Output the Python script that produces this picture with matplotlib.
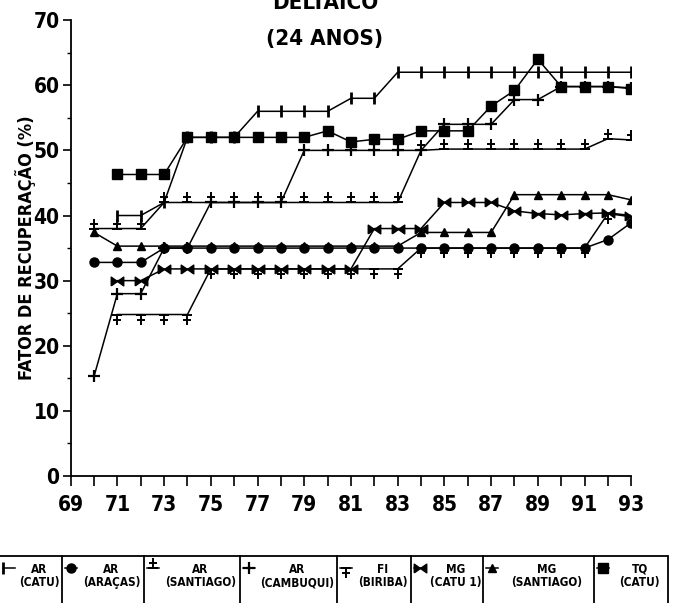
import numpy as np
import matplotlib
matplotlib.use("Agg")
import matplotlib.pyplot as plt
from matplotlib.path import Path
from matplotlib.lines import Line2D

plt.rcParams['font.family'] = ['DejaVu Sans']
plt.rcParams['font.stretch'] = 'condensed'
plt.rcParams['font.weight'] = 'bold'

# Data
years = list(range(70, 94))
nan = np.nan

ar_catu = [nan, 40, 40, 42, 52, 52, 52, 56, 56, 56, 56, 58, 58,
           62, 62, 62, 62, 62, 62, 62, 62, 62, 62, 62]
ar_aracas = [32.8, 32.8, 32.8, 35, 35, 35, 35, 35, 35, 35, 35, 35, 35,
             35, 35, 35, 35, 35, 35, 35, 35, 35, 36.3, 38.9]
ar_santiago = [38, 38, 38, 42, 42, 42, 42, 42, 42, 42, 42, 42, 42,
               42, 50, 50.2, 50.2, 50.2, 50.2, 50.2, 50.2, 50.2, 51.8, 51.6]
ar_cambuqui = [15.3, 28, 28, 35, 35, 42, 42, 42, 42, 50, 50, 50, 50,
               50, 50, 54, 54, 54, 57.8, 57.8, 59.8, 59.8, 59.8, 59.6]
fi_biriba = [nan, 24.8, 24.8, 24.8, 24.8, 31.8, 31.8, 31.8, 31.8, 31.8, 31.8, 31.8, 31.8,
             31.8, 35, 35, 35, 35, 35, 35, 35, 35, 40.3, 39.8]
mg_catu1 = [nan, 30, 30, 31.8, 31.8, 31.8, 31.8, 31.8, 31.8, 31.8, 31.8, 31.8, 38,
            38, 38, 42, 42, 42, 40.7, 40.3, 40.1, 40.3, 40.4, 40]
mg_santiago = [37.4, 35.3, 35.3, 35.3, 35.3, 35.3, 35.3, 35.3, 35.3, 35.3, 35.3, 35.3, 35.3,
               35.3, 37.4, 37.4, 37.4, 37.4, 43.2, 43.2, 43.2, 43.2, 43.2, 42.4]
tq_catu = [nan, 46.3, 46.3, 46.3, 52, 52, 52, 52, 52, 52, 53, 51.3, 51.7,
           51.7, 53, 53, 53, 56.8, 59.2, 64, 59.8, 59.8, 59.8, 59.5]

names = ["AR\n(CATU)", "AR\n(ARAÇAS)", "AR\n(SANTIAGO)", "AR\n(CAMBUQUI)",
         "FI\n(BIRIBA)", "MG\n(CATU 1)", "MG\n(SANTIAGO)", "TQ\n(CATU)"]

# custom markers
M, L = Path.MOVETO, Path.LINETO
plus_up = Path([(-0.5, 0), (0.5, 0), (0, 0), (0, 1), (-0.4, 0.55), (0.4, 0.55)],
               [M, L, M, L, M, L])
plus_down = Path([(-0.5, 0), (0.5, 0), (0, 0), (0, -1), (-0.4, -0.55), (0.4, -0.55)],
                 [M, L, M, L, M, L])
bowtie = Path([(-1, -0.7), (-1, 0.7), (0, 0), (1, 0.7), (1, -0.7), (0, 0), (-1, -0.7)],
              [M, L, L, L, L, L, L])


def get_styles():
    return [
        dict(marker="|", ms=9, mew=2, mfc="black"),
        dict(marker="o", ms=6.5, mfc="black"),
        dict(marker=plus_up, ms=14, mew=1.4, mfc="none"),
        dict(marker="+", ms=9, mew=1.6, mfc="black"),
        dict(marker=plus_down, ms=14, mew=1.4, mfc="none"),
        dict(marker=bowtie, ms=9, mew=1, mfc="black"),
        dict(marker="^", ms=5.5, mfc="black"),
        dict(marker="s", ms=7.5, mfc="black"),
    ]


series = [ar_catu, ar_aracas, ar_santiago, ar_cambuqui,
          fi_biriba, mg_catu1, mg_santiago, tq_catu]

fig = plt.figure(figsize=(6.73, 6.03), dpi=100)
ax = fig.add_axes([0.105, 0.2106, 0.833, 0.756])

for vals, st in zip(series, get_styles()):
    ax.plot(years, vals, color="black", lw=1.1, mec="black", **st)

ax.set_xlim(69, 93)
ax.set_ylim(0, 70)
ax.spines['top'].set_visible(False)
ax.spines['right'].set_visible(False)
ax.spines['left'].set_linewidth(1.3)
ax.spines['bottom'].set_linewidth(1.3)

ax.set_xticks(range(69, 94, 2))
ax.set_xticks(range(70, 93, 2), minor=True)
ax.set_yticks(range(0, 71, 10))
ax.set_yticks(range(5, 70, 10), minor=True)
ax.tick_params(axis='x', which='both', length=7, width=1.2, pad=7, labelsize=15)
ax.tick_params(axis='y', which='major', length=6, width=1.2, pad=2, labelsize=15)
ax.tick_params(axis='y', which='minor', length=3, width=1)

ax.set_ylabel("FATOR DE RECUPERAÇÃO (%)", fontsize=13, fontweight='bold')
ax.yaxis.set_label_coords(-0.062, 0.5)

fig.text(0.483, 0.985, "DELTAICO", ha="center", va="baseline", fontsize=16, fontweight='bold')
fig.text(0.483, 0.925, "(24 ANOS)", ha="center", va="baseline", fontsize=16, fontweight='bold')

# legend table at the bottom
H = 603.0
W = 673.0
top = (H - 556) / H
edges = [0, 62, 144, 240, 337, 411, 483, 594, 668]
fig.add_artist(Line2D([0, 667 / W], [top, top], transform=fig.transFigure, color="black", lw=1.3))
for e in edges[1:]:
    fig.add_artist(Line2D([e / W, e / W], [0, top], transform=fig.transFigure, color="black", lw=1.3))

ym = (H - 568) / H
for i, (name, st) in enumerate(zip(names, get_styles())):
    x0 = edges[i] + 3
    x1 = x0 + 12
    mk_at = [0] if i == 0 else [1]
    fig.add_artist(Line2D([x0 / W, (x0 + 6) / W, x1 / W], [ym, ym, ym], transform=fig.transFigure,
                          color="black", lw=1.1, mec="black", markevery=mk_at, **st))
    xc = (x1 + edges[i + 1]) / 2 + 1
    fig.text(xc / W, (H - 576) / H, name, ha="center", va="center", fontsize=8.5,
             fontweight='bold', linespacing=1.05)

fig.savefig("out.png", dpi=100)
